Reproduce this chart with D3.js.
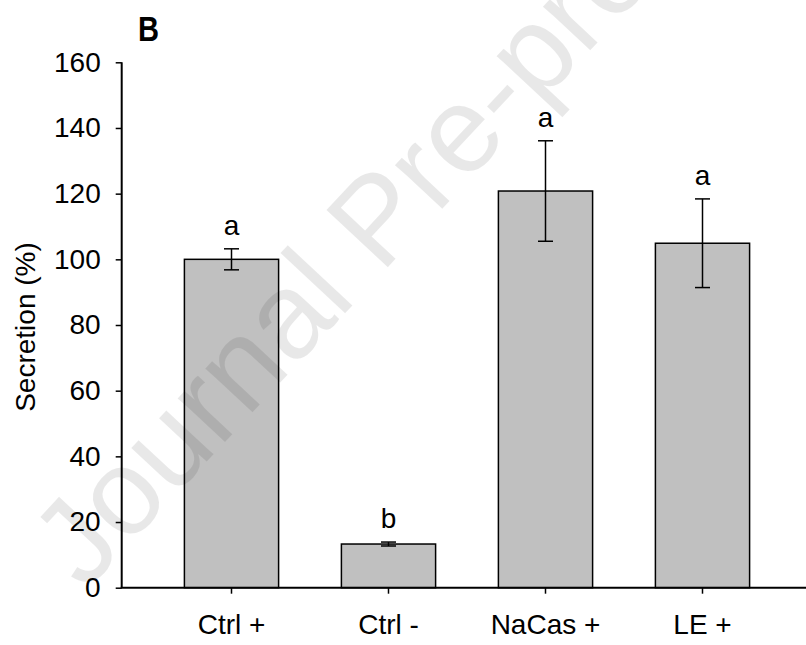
<!DOCTYPE html>
<html>
<head>
<meta charset="utf-8">
<script src="https://cdn.jsdelivr.net/npm/d3@7"></script>
<style>
  body { margin: 0; background: #fff; }
  text { font-family: "Liberation Sans", Arial, sans-serif; }
</style>
</head>
<body>
<div id="chart"></div>
<script>
const categories = ["Ctrl +", "Ctrl -", "NaCas +", "LE +"]
const secretion = [100, 13.3, 120.8, 104.9]
const errors = [3.2, 0.6, 15.3, 13.5]
const letters = ["a", "b", "a", "a"]
const yTicks = [0, 20, 40, 60, 80, 100, 120, 140, 160]

const svg = d3.select("#chart")
    .append("svg")
    .attr("width", 806)
    .attr("height", 645);

const x = d3.scaleBand()
    .domain(categories)
    .range([153, 781])
    .paddingInner(0.4)
    .paddingOuter(0.2);

const y = d3.scaleLinear()
    .domain([0, 160])
    .range([587.7, 62.3]);

// bars
svg.selectAll("rect.bar")
    .data(categories)
    .enter()
    .append("rect")
    .attr("class", "bar")
    .attr("x", d => x(d))
    .attr("y", (d, i) => y(secretion[i]))
    .attr("width", x.bandwidth())
    .attr("height", (d, i) => y(0) - y(secretion[i]))
    .attr("fill", "#c0c0c0")
    .attr("stroke", "#000")
    .attr("stroke-width", 1.5);

// error bars
const cx = d => x(d) + x.bandwidth() / 2
const err = svg.append("g").attr("stroke", "#000").attr("stroke-width", 1.5);
categories.forEach((c, i) => {
    const top = y(secretion[i] + errors[i]);
    const bot = y(secretion[i] - errors[i]);
    err.append("line").attr("x1", cx(c)).attr("x2", cx(c)).attr("y1", top).attr("y2", bot);
    err.append("line").attr("x1", cx(c) - 7.5).attr("x2", cx(c) + 7.5).attr("y1", top).attr("y2", top);
    err.append("line").attr("x1", cx(c) - 7.5).attr("x2", cx(c) + 7.5).attr("y1", bot).attr("y2", bot);
});

// watermark
svg.append("text")
    .attr("transform", "translate(85,592) rotate(-47)")
    .attr("font-size", 122)
    .attr("fill", "#000")
    .attr("fill-opacity", 0.09)
    .text("Journal Pre-proof");

// significance letters
svg.selectAll("text.sig")
    .data(categories)
    .enter()
    .append("text")
    .attr("class", "sig")
    .attr("x", d => cx(d))
    .attr("y", (d, i) => y(secretion[i] + errors[i]) - 14)
    .attr("text-anchor", "middle")
    .attr("font-size", 28)
    .text((d, i) => letters[i]);

// y axis
const yAxis = svg.append("g")
    .attr("transform", "translate(121.7,0)")
    .call(d3.axisLeft(y).tickValues(yTicks).tickSize(6).tickPadding(15));
yAxis.select(".domain").attr("stroke-width", 2).attr("d", "M0," + y(160) + "V" + y(0));
yAxis.selectAll(".tick line").attr("stroke-width", 1.5);
yAxis.selectAll(".tick text")
    .attr("font-size", 28)
    .attr("font-family", "Liberation Sans, Arial, sans-serif")
    .attr("fill", "#000");

// x axis
const xAxis = svg.append("g")
    .attr("transform", "translate(0," + y(0) + ")")
    .call(d3.axisBottom(x).tickSize(6).tickPadding(20));
xAxis.select(".domain").attr("stroke-width", 2).attr("d", "M120.7,0H806");
xAxis.selectAll(".tick line").attr("stroke-width", 1.5);
xAxis.selectAll(".tick text")
    .attr("font-size", 28)
    .attr("font-family", "Liberation Sans, Arial, sans-serif")
    .attr("fill", "#000");

// y label
svg.append("text")
    .attr("transform", "translate(35,327) rotate(-90)")
    .attr("text-anchor", "middle")
    .attr("font-size", 28)
    .text("Secretion (%)");

// panel letter
svg.append("text")
    .attr("x", 138)
    .attr("y", 40.7)
    .attr("font-size", 35)
    .attr("font-weight", "bold")
    .attr("textLength", 21)
    .attr("lengthAdjust", "spacingAndGlyphs")
    .text("B");
</script>
</body>
</html>
